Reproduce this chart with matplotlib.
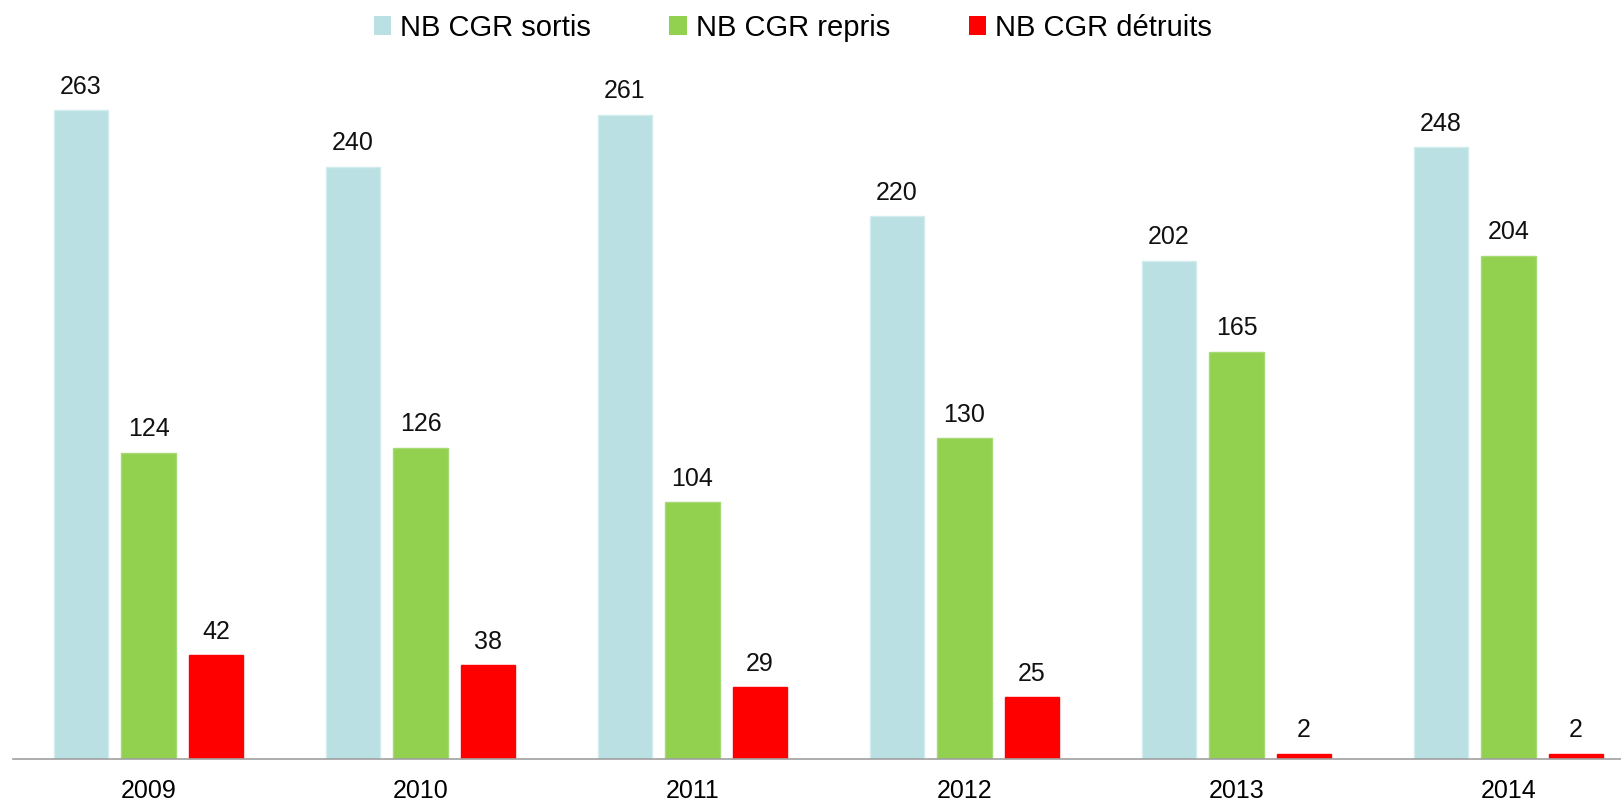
import numpy as np
import matplotlib.pyplot as plt
from matplotlib.patches import Patch

years = ['2009', '2010', '2011', '2012', '2013', '2014']
sortis = [263, 240, 261, 220, 202, 248]
repris = [124, 126, 104, 130, 165, 204]
detruits = [42, 38, 29, 25, 2, 2]

series_names = ['NB CGR sortis', 'NB CGR repris', 'NB CGR détruits']
colors = ['#BBE0E3', '#92D050', '#FF0000']
edges = ['#D2ECEE', '#A6DA72', '#FF0000']

plt.rcParams['font.family'] = ['Liberation Sans', 'DejaVu Sans']

W, H = 1621, 801
fig = plt.figure(figsize=(W / 100, H / 100), dpi=100)
ax = fig.add_axes([12.5 / W, 42 / H, 1 - 12.5 / W, 759 / H])

x = np.arange(len(years))
width = 0.2
offset = 0.248
for i, (vals, c, ec) in enumerate(zip([sortis, repris, detruits], colors, edges)):
    pos = x + (i - 1) * offset
    ax.bar(pos, vals, width=width, color=c, edgecolor=ec, linewidth=1)
    for px, v in zip(pos, vals):
        ax.annotate(str(v), (px, v), xytext=(0, 12), textcoords='offset points',
                    ha='center', va='baseline', fontsize=18, color='#111111')

ax.set_xlim(-0.5, (W - 12.5) / 272 - 0.5)
ax.set_ylim(0, 759 / 2.467)

ax.set_xticks(x)
ax.set_xticklabels(years, fontsize=18)
ax.tick_params(axis='x', length=0, pad=14.5)
ax.set_yticks([])
for s in ['top', 'right', 'left']:
    ax.spines[s].set_visible(False)
ax.spines['bottom'].set_color('#A0A0A0')
ax.spines['bottom'].set_linewidth(1.2)

handles = [Patch(facecolor=c, edgecolor='none') for c in colors]
fig.legend(handles, series_names, loc='center', bbox_to_anchor=(0.489, 0.965),
           ncol=3, frameon=False, fontsize=21, handlelength=0.6, handleheight=0.6,
           handletextpad=0.3, columnspacing=2.7)

fig.savefig('out.png', dpi=100)
